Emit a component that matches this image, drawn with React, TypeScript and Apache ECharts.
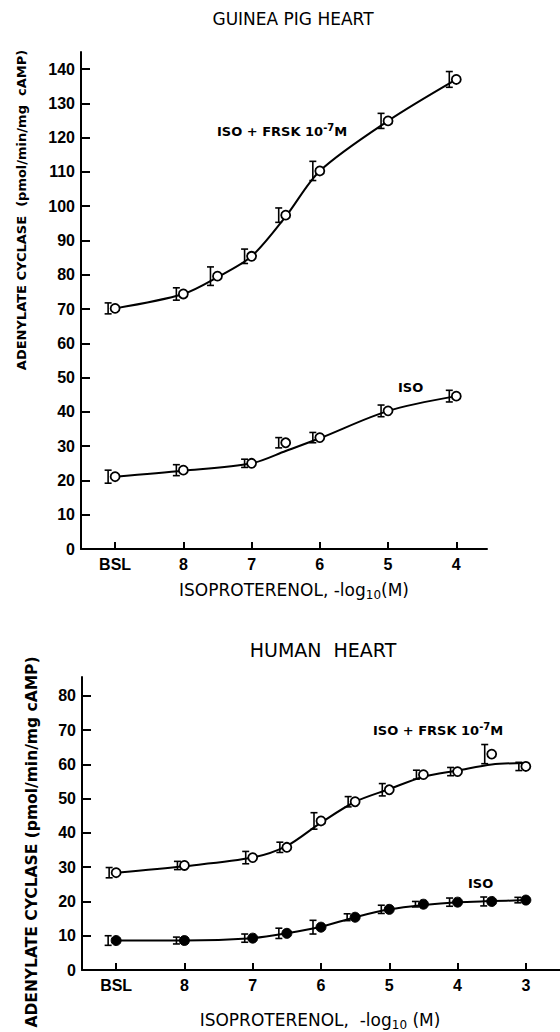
import React, { useEffect, useRef } from "react";
import * as echarts from "echarts";

// Guinea pig heart (BSL plotted at 9)
const gpFrskX = [9, 8, 7.5, 7, 6.5, 6, 5, 4];
const gpFrskY = [70.2, 74.4, 79.6, 85.4, 97.4, 110.3, 124.9, 137];
const gpFrskErr = [1.6, 1.8, 2.7, 2.1, 2.1, 2.8, 2.2, 2.3];
const gpFrskCurve = [70.2, 74.4, 79.3, 85.4, 97.0, 110.3, 124.9, 137];
const gpIsoX = [9, 8, 7, 6.5, 6, 5, 4];
const gpIsoY = [21.1, 23.0, 25.0, 31.0, 32.5, 40.3, 44.6];
const gpIsoErr = [1.9, 1.6, 1.2, 1.5, 1.5, 1.7, 1.7];
const gpIsoCurve = [21.1, 22.8, 25.0, 28.6, 32.3, 40.3, 44.6];

// Human heart
const huX = [9, 8, 7, 6.5, 6, 5.5, 5, 4.5, 4, 3.5, 3];
const huFrskY = [28.4, 30.5, 32.8, 35.8, 43.5, 49.1, 52.6, 57.0, 57.9, 63.0, 59.4];
const huFrskErr = [1.5, 1.2, 1.8, 1.5, 2.4, 1.5, 1.8, 1.3, 1.2, 2.8, 1.2];
const huFrskCurve = [28.4, 30.3, 32.8, 36.2, 43.0, 49.1, 52.8, 56.4, 58.2, 60.0, 60.4];
const huIsoY = [8.6, 8.6, 9.3, 10.7, 12.5, 15.4, 17.7, 19.2, 19.8, 20.0, 20.4];
const huIsoErr = [1.4, 1.0, 1.2, 1.5, 2.0, 1.0, 1.2, 0.8, 1.2, 1.3, 0.8];
const huIsoCurve = [8.6, 8.6, 9.3, 10.7, 12.6, 15.4, 17.7, 19.0, 19.8, 20.1, 20.4];

const topXTicks = [4, 5, 6, 7, 8, 9];
const botXTicks = [3, 4, 5, 6, 7, 8, 9];
const topYTicks = [0, 10, 20, 30, 40, 50, 60, 70, 80, 90, 100, 110, 120, 130, 140];
const botYTicks = [0, 10, 20, 30, 40, 50, 60, 70, 80];

const FONT = "DejaVu Sans";
const TICKFONT = "Liberation Sans";

function xLabel(v: number) {
  return Math.abs(v - 9) < 1e-6 ? "BSL" : String(Math.round(v));
}

function pts(xs: number[], ys: number[]) {
  return xs.map((x, i) => [x, ys[i]]);
}
function errs(xs: number[], ys: number[], es: number[]) {
  return xs.map((x, i) => [x, ys[i], es[i]]);
}

function errorRender(offset: number) {
  return (params: any, api: any) => {
    const x = api.value(0);
    const y = api.value(1);
    const e = api.value(2);
    const c = api.coord([x, y]);
    const t = api.coord([x, y + e]);
    const b = api.coord([x, y - e]);
    const px = c[0] + offset;
    const st = { stroke: "#000", lineWidth: 1.6 };
    return {
      type: "group",
      children: [
        { type: "line", shape: { x1: px, y1: t[1], x2: px, y2: b[1] }, style: st },
        { type: "line", shape: { x1: px - 3.5, y1: t[1], x2: px + 3.5, y2: t[1] }, style: st },
        { type: "line", shape: { x1: px - 3.5, y1: b[1], x2: px + 3.5, y2: b[1] }, style: st },
      ],
    };
  };
}

function xAxisCfg(gridIndex: number, min: number, ticks: number[]) {
  return {
    type: "value",
    gridIndex,
    inverse: true,
    min,
    max: 9.5,
    axisLine: { show: true, onZero: false, lineStyle: { color: "#000", width: 2 } },
    axisTick: { show: true, inside: true, length: 7, lineStyle: { color: "#000", width: 2 }, customValues: ticks },
    axisLabel: {
      show: true,
      customValues: ticks,
      formatter: (v: number) => xLabel(v),
      color: "#000",
      fontFamily: TICKFONT,
      fontSize: 16,
      fontWeight: "bold",
      margin: 7,
      showMinLabel: true,
      showMaxLabel: true,
    },
    splitLine: { show: false },
  };
}

function yAxisCfg(gridIndex: number, max: number, ticks: number[]) {
  return {
    type: "value",
    gridIndex,
    min: 0,
    max,
    axisLine: { show: true, onZero: false, lineStyle: { color: "#000", width: 2 } },
    axisTick: { show: true, inside: true, length: 9, lineStyle: { color: "#000", width: 2 }, customValues: ticks },
    axisLabel: {
      show: true,
      customValues: ticks,
      color: "#000",
      fontFamily: TICKFONT,
      fontSize: 16,
      fontWeight: "bold",
      margin: 6,
    },
    splitLine: { show: false },
  };
}

const openCircle = { color: "#fff", borderColor: "#000", borderWidth: 1.8, opacity: 1 };
const filledCircle = { color: "#000", borderColor: "#000", borderWidth: 1, opacity: 1 };

function curveSeries(xi: number, data: number[][]) {
  return {
    type: "line",
    xAxisIndex: xi,
    yAxisIndex: xi,
    data,
    smooth: 0.3,
    showSymbol: false,
    symbol: "none",
    lineStyle: { color: "#000", width: 2 },
    z: 2,
    silent: true,
  };
}

function markerSeries(xi: number, data: number[][], filled: boolean) {
  return {
    type: "scatter",
    xAxisIndex: xi,
    yAxisIndex: xi,
    data,
    symbol: "circle",
    symbolSize: filled ? 10 : 9,
    itemStyle: filled ? filledCircle : openCircle,
    z: 3,
  };
}

function errSeries(xi: number, data: number[][], offset: number) {
  return {
    type: "custom",
    xAxisIndex: xi,
    yAxisIndex: xi,
    data,
    renderItem: errorRender(offset),
    z: 4,
  };
}

const frskRich = {
  a: { fontFamily: FONT, fontSize: 13, fontWeight: "bold", color: "#000", lineHeight: 15, verticalAlign: "bottom" },
  sup: { fontFamily: FONT, fontSize: 10, fontWeight: "bold", color: "#000", lineHeight: 10, verticalAlign: "top" },
};
const nameRich = {
  a: { fontFamily: FONT, fontSize: 17, color: "#000", lineHeight: 20, verticalAlign: "top" },
  sub: { fontFamily: FONT, fontSize: 12, color: "#000", lineHeight: 12, padding: [11, 0, 0, 0], verticalAlign: "bottom" },
};

function txt(text: string, x: number, y: number, size: number, weight: string, rotation = 0) {
  return {
    type: "text",
    x,
    y,
    rotation,
    style: {
      text,
      fill: "#000",
      font: `${weight} ${size}px "${FONT}"`,
      textAlign: "center",
      textVerticalAlign: "middle",
    },
  };
}

function richTxt(text: string, x: number, y: number, rich: any, align = "left") {
  return {
    type: "text",
    x,
    y,
    style: {
      text,
      rich,
      fill: "#000",
      textAlign: align,
      textVerticalAlign: "middle",
    },
  };
}

export default function App() {
  const ref = useRef<HTMLDivElement>(null);
  useEffect(() => {
    if (!ref.current) return;
    const chart = echarts.init(ref.current, null, { renderer: "svg" });
    chart.setOption({
      animation: false,
      backgroundColor: "#fff",
      grid: [
        { left: 81, top: 52, width: 406, height: 497 },
        { left: 82, top: 677, width: 478, height: 293 },
      ],
      xAxis: [xAxisCfg(0, 3.55, topXTicks), xAxisCfg(1, 2.5, botXTicks)],
      yAxis: [yAxisCfg(0, 145, topYTicks), yAxisCfg(1, 85.5, botYTicks)],
      series: [
        curveSeries(0, pts(gpFrskX, gpFrskCurve)),
        markerSeries(0, pts(gpFrskX, gpFrskY), false),
        errSeries(0, errs(gpFrskX, gpFrskY, gpFrskErr), -7),
        curveSeries(0, pts(gpIsoX, gpIsoCurve)),
        markerSeries(0, pts(gpIsoX, gpIsoY), false),
        errSeries(0, errs(gpIsoX, gpIsoY, gpIsoErr), -7),
        curveSeries(1, pts(huX, huFrskCurve)),
        markerSeries(1, pts(huX, huFrskY), false),
        errSeries(1, errs(huX, huFrskY, huFrskErr), -7),
        curveSeries(1, pts(huX, huIsoCurve)),
        markerSeries(1, pts(huX, huIsoY), true),
        errSeries(1, errs(huX, huIsoY, huIsoErr), -8),
      ],
      graphic: [
        txt("GUINEA PIG HEART", 293, 19, 17, "normal"),
        txt("HUMAN  HEART", 323, 650, 19, "normal"),
        txt("ADENYLATE CYCLASE  (pmol/min/mg  cAMP)", 21, 210, 13, "bold", Math.PI / 2),
        txt("ADENYLATE CYCLASE (pmol/min/mg cAMP)", 32, 842, 15.5, "bold", Math.PI / 2),
        richTxt("{a|ISOPROTERENOL, -log}{sub|10}{a|(M)}", 294, 591, nameRich, "center"),
        richTxt("{a|ISOPROTERENOL,  -log}{sub|10}{a| (M)}", 320, 1021, nameRich, "center"),
        richTxt("{a|ISO + FRSK 10}{sup|-7}{a|M}", 217, 130, frskRich),
        richTxt("{a|ISO}", 398, 386, frskRich),
        richTxt("{a|ISO + FRSK 10}{sup|-7}{a|M}", 373, 729, frskRich),
        richTxt("{a|ISO}", 468, 882, frskRich),
      ],
    });
    return () => chart.dispose();
  }, []);
  return (
    <div
      ref={ref}
      style={{ position: "absolute", left: 0, top: 0, width: 560, height: 1032, background: "#fff" }}
    />
  );
}
